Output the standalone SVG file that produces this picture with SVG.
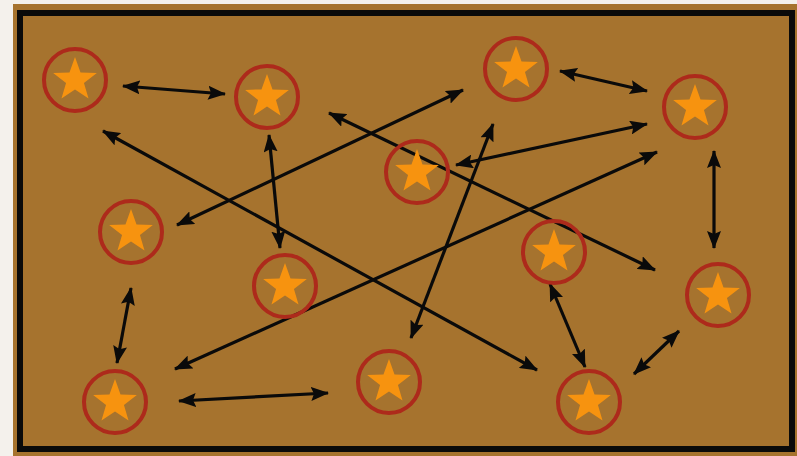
<svg xmlns="http://www.w3.org/2000/svg" xmlns:xlink="http://www.w3.org/1999/xlink" width="797" height="456" viewBox="0 0 797 456">
<style>
.ring{fill:none;stroke:#ad2a1b;stroke-width:4}
.star{fill:#f7930f}
.arr{stroke:#0a0a0a;stroke-width:3.2;fill:none;marker-start:url(#ah);marker-end:url(#ah)}
</style>
<defs>
<marker id="ah" viewBox="0 0 18 14" refX="17" refY="7" markerWidth="18" markerHeight="14" markerUnits="userSpaceOnUse" orient="auto-start-reverse">
<path d="M0,0 L18,7 L0,14 L3,7 Z" fill="#0a0a0a"/>
</marker>
<path id="st" class="star" d="M0,-23 L5.53,-7.61 L21.87,-7.11 L8.95,2.91 L13.52,18.61 L0,9.4 L-13.52,18.61 L-8.95,2.91 L-21.87,-7.11 L-5.53,-7.61 Z"/>
</defs>
<rect width="797" height="456" fill="#f4f1ec"/>
<rect x="13" y="4" width="784" height="452" fill="#a6732e"/>
<rect x="20" y="13" width="772" height="436" fill="none" stroke="#0a0a0a" stroke-width="6"/>
<g id="connectors">
<line class="arr" x1="123" y1="86" x2="225" y2="94"/>
<line class="arr" x1="560" y1="71" x2="647" y2="91"/>
<line class="arr" x1="269" y1="135" x2="280" y2="248"/>
<line class="arr" x1="714" y1="151" x2="714" y2="248"/>
<line class="arr" x1="131" y1="288" x2="117" y2="363"/>
<line class="arr" x1="179" y1="401" x2="328" y2="393"/>
<line class="arr" x1="550" y1="284" x2="585" y2="367"/>
<line class="arr" x1="634" y1="374" x2="679" y2="331"/>
<line class="arr" x1="177" y1="225" x2="463" y2="90"/>
<line class="arr" x1="103" y1="131" x2="537" y2="370"/>
<line class="arr" x1="329" y1="113" x2="655" y2="270"/>
<line class="arr" x1="456" y1="165" x2="647" y2="124"/>
<line class="arr" x1="175" y1="369" x2="657" y2="152"/>
<line class="arr" x1="493" y1="124" x2="411" y2="338"/>
</g>
<g id="n1"><circle class="ring" cx="75" cy="80" r="31"/><use xlink:href="#st" x="75" y="80"/></g>
<g id="n2"><circle class="ring" cx="267" cy="97" r="31"/><use xlink:href="#st" x="267" y="97"/></g>
<g id="n3"><circle class="ring" cx="516" cy="69" r="31"/><use xlink:href="#st" x="516" y="69"/></g>
<g id="n4"><circle class="ring" cx="695" cy="107" r="31"/><use xlink:href="#st" x="695" y="107"/></g>
<g id="n5"><circle class="ring" cx="417" cy="172" r="31"/><use xlink:href="#st" x="417" y="172"/></g>
<g id="n6"><circle class="ring" cx="131" cy="232" r="31"/><use xlink:href="#st" x="131" y="232"/></g>
<g id="n7"><circle class="ring" cx="285" cy="286" r="31"/><use xlink:href="#st" x="285" y="286"/></g>
<g id="n8"><circle class="ring" cx="554" cy="252" r="31"/><use xlink:href="#st" x="554" y="252"/></g>
<g id="n9"><circle class="ring" cx="718" cy="295" r="31"/><use xlink:href="#st" x="718" y="295"/></g>
<g id="n10"><circle class="ring" cx="115" cy="402" r="31"/><use xlink:href="#st" x="115" y="402"/></g>
<g id="n11"><circle class="ring" cx="389" cy="382" r="31"/><use xlink:href="#st" x="389" y="382"/></g>
<g id="n12"><circle class="ring" cx="589" cy="402" r="31"/><use xlink:href="#st" x="589" y="402"/></g>
</svg>
